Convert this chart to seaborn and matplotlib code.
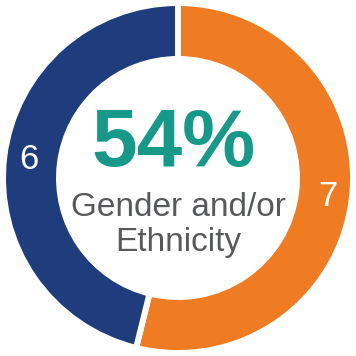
import matplotlib
matplotlib.use('Agg')
import matplotlib.pyplot as plt
import seaborn as sns

sns.set_theme(style='white')
plt.rcParams['font.family'] = ['Liberation Sans', 'DejaVu Sans']

# data
groups = ['Gender and/or Ethnicity', 'Other']
counts = [7, 6]
seg_labels = ['7', '6']
seg_colors = ['#ef7b23', '#1f3c7d']
headline = '54%'
caption = ['Gender and/or', 'Ethnicity']

fig = plt.figure(figsize=(3.56, 3.56), dpi=100)
ax = fig.add_axes([0, 0, 1, 1])

wedges, texts = ax.pie(counts, labels=seg_labels, colors=seg_colors,
                       startangle=90, counterclock=False, radius=1.0,
                       labeldistance=0.86,
                       wedgeprops=dict(width=0.32, edgecolor='white', linewidth=4.3),
                       textprops=dict(color='white', fontsize=25, ha='center', va='center'))

ax.text(-0.025, 0.069, headline, ha='center', va='baseline',
        fontsize=59, fontweight='bold', color='#17998a')
ax.text(0, -0.217, caption[0], ha='center', va='baseline',
        fontsize=24, color='#58595b')
ax.text(0, -0.417, caption[1], ha='center', va='baseline',
        fontsize=24, color='#58595b')

lim = 178 / 175
ax.set_xlim(-lim, lim)
ax.set_ylim(-lim, lim)
ax.set_aspect('equal')
ax.axis('off')

fig.savefig('out.png', dpi=100, facecolor='white')
